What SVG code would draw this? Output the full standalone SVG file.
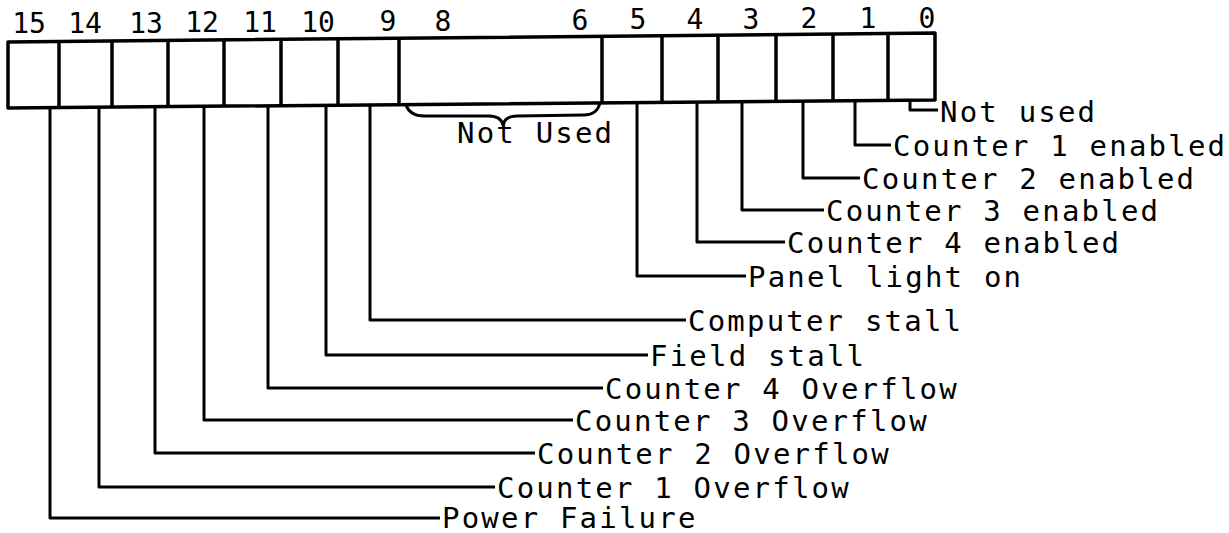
<svg xmlns="http://www.w3.org/2000/svg" width="1229" height="533" viewBox="0 0 1229 533">
<style>
.box{fill:none;stroke:#000;stroke-width:3.5;stroke-linejoin:round}
.div{stroke:#000;stroke-width:3.5}
.lead{fill:none;stroke:#000;stroke-width:3;stroke-linejoin:round}
.lbl{font-family:"DejaVu Sans Mono","Liberation Mono",monospace;font-size:29px;letter-spacing:2.2px;fill:#000}
.bit{font-family:"DejaVu Sans Mono","Liberation Mono",monospace;font-size:28px;fill:#000;text-anchor:middle}
</style>
<rect width="1229" height="533" fill="#fff"/>
<g id="register">
<polygon class="box" points="8,42 935,33 935,100 8,108"/>
<line class="div" x1="59" y1="41.5" x2="59" y2="107.6"/>
<line class="div" x1="112" y1="41" x2="112" y2="107.1"/>
<line class="div" x1="168" y1="40.5" x2="168" y2="106.6"/>
<line class="div" x1="224" y1="39.9" x2="224" y2="106.1"/>
<line class="div" x1="281" y1="39.4" x2="281" y2="105.6"/>
<line class="div" x1="338" y1="38.8" x2="338" y2="105.2"/>
<line class="div" x1="399" y1="38.2" x2="399" y2="104.6"/>
<line class="div" x1="602" y1="36.2" x2="602" y2="102.9"/>
<line class="div" x1="662" y1="35.7" x2="662" y2="102.4"/>
<line class="div" x1="718" y1="35.1" x2="718" y2="101.9"/>
<line class="div" x1="776" y1="34.6" x2="776" y2="101.4"/>
<line class="div" x1="833" y1="34" x2="833" y2="100.9"/>
<line class="div" x1="888" y1="33.5" x2="888" y2="100.4"/>
</g>
<g id="bit-numbers">
<text class="bit" x="29" y="33">15</text>
<text class="bit" x="85" y="33">14</text>
<text class="bit" x="146" y="32.5">13</text>
<text class="bit" x="202" y="32">12</text>
<text class="bit" x="260" y="32">11</text>
<text class="bit" x="318" y="31.5">10</text>
<text class="bit" x="388" y="31">9</text>
<text class="bit" x="443" y="31">8</text>
<text class="bit" x="580" y="29.5">6</text>
<text class="bit" x="638" y="29">5</text>
<text class="bit" x="695" y="29">4</text>
<text class="bit" x="751" y="28.5">3</text>
<text class="bit" x="809" y="28">2</text>
<text class="bit" x="868" y="28">1</text>
<text class="bit" x="927" y="27.5">0</text>
</g>
<g id="not-used-6-8">
<path class="lead" d="M406,105 Q410,116 424,116 L489,116 Q501,116 503,125 Q505,116 517,116 L584,115 Q597,115 600,103"/>
<text class="lbl" x="457" y="143">Not Used</text>
</g>
<g id="connectors">
<polyline class="lead" points="910,100.2 910,110 938,110"/>
<polyline class="lead" points="855,100.7 855,145 891,145"/>
<polyline class="lead" points="803,101.1 803,178 860,178"/>
<polyline class="lead" points="742,101.7 742,210 824,210"/>
<polyline class="lead" points="697,102 697,242 785,242"/>
<polyline class="lead" points="637,102.6 637,276 746,276"/>
<polyline class="lead" points="370,104.9 370,320 686,320"/>
<polyline class="lead" points="326,105.3 326,355 648,355"/>
<polyline class="lead" points="268,105.8 268,388 603,388"/>
<polyline class="lead" points="204,106.3 204,420 573,420"/>
<polyline class="lead" points="155,106.7 155,453 535,453"/>
<polyline class="lead" points="99,107.2 99,487 495,487"/>
<polyline class="lead" points="50,107.6 50,518 440,518"/>
</g>
<g id="label-bit0"><text class="lbl" x="940" y="122">Not used</text></g>
<g id="label-bit1"><text class="lbl" x="893" y="156">Counter 1 enabled</text></g>
<g id="label-bit2"><text class="lbl" x="862" y="189">Counter 2 enabled</text></g>
<g id="label-bit3"><text class="lbl" x="826" y="221">Counter 3 enabled</text></g>
<g id="label-bit4"><text class="lbl" x="787" y="253">Counter 4 enabled</text></g>
<g id="label-bit5"><text class="lbl" x="748" y="287">Panel light on</text></g>
<g id="label-bit9"><text class="lbl" x="688" y="331">Computer stall</text></g>
<g id="label-bit10"><text class="lbl" x="650" y="366">Field stall</text></g>
<g id="label-bit11"><text class="lbl" x="605" y="399">Counter 4 Overflow</text></g>
<g id="label-bit12"><text class="lbl" x="575" y="431">Counter 3 Overflow</text></g>
<g id="label-bit13"><text class="lbl" x="537" y="464">Counter 2 Overflow</text></g>
<g id="label-bit14"><text class="lbl" x="497" y="498">Counter 1 Overflow</text></g>
<g id="label-bit15"><text class="lbl" x="442" y="528">Power Failure</text></g>
</svg>
